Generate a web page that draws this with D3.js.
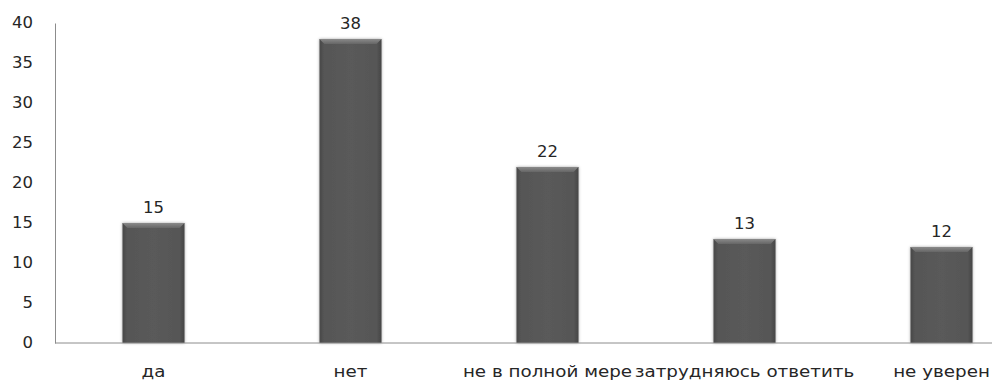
<!DOCTYPE html>
<html>
<head>
<meta charset="utf-8">
<script src="https://cdn.jsdelivr.net/npm/d3@7"></script>
<style>
  html, body { margin: 0; padding: 0; background: #fff; }
  svg { display: block; }
  text { font-family: "DejaVu Sans", Verdana, sans-serif; fill: #262626; }
</style>
</head>
<body>
<svg id="chart" width="992" height="381"></svg>
<script>
// Survey answers and their counts
const categories = ["да", "нет", "не в полной мере", "затрудняюсь ответить", "не уверен"];
const values = [15, 38, 22, 13, 12];
const yTicks = [0, 5, 10, 15, 20, 25, 30, 35, 40];

const W = 992, H = 381;
const margin = { left: 55, top: 23, bottom: 38 };
const plotRight = 1040; // plot area runs past the visible edge
const baseY = H - margin.bottom;
const numStretch = 1.1, catStretch = 1.22; // wide lettering

const svg = d3.select("#chart");
const defs = svg.append("defs");

// Bar body: dark grey with slightly darker sides
const body = defs.append("linearGradient").attr("id", "barBody")
  .attr("x1", "0").attr("x2", "1").attr("y1", "0").attr("y2", "0");
[[0, "#494949"], [0.08, "#565656"], [0.5, "#5a5a5a"], [0.92, "#565656"], [1, "#464646"]]
  .forEach(([o, c]) => body.append("stop").attr("offset", o).attr("stop-color", c));

const topBevel = defs.append("linearGradient").attr("id", "barTop")
  .attr("x1", "0").attr("x2", "0").attr("y1", "0").attr("y2", "1");
[[0, "#8a8a8a"], [1, "#666"]]
  .forEach(([o, c]) => topBevel.append("stop").attr("offset", o).attr("stop-color", c));

const shadow = defs.append("filter").attr("id", "shadow")
  .attr("x", "-20%").attr("y", "-10%").attr("width", "140%").attr("height", "120%");
shadow.append("feDropShadow").attr("dx", 0).attr("dy", 0)
  .attr("stdDeviation", 1.5).attr("flood-color", "#000").attr("flood-opacity", 0.35);

const x = d3.scaleBand().domain(categories).range([margin.left, plotRight]).paddingInner(0.685).paddingOuter(0.3425);
const y = d3.scaleLinear().domain([0, 40]).range([baseY, margin.top]);

// Y axis labels (no tick marks)
const yAxis = svg.append("g").attr("transform", `translate(${margin.left},0)`)
  .call(d3.axisLeft(y).tickValues(yTicks).tickSize(0).tickPadding(22));
yAxis.select(".domain").attr("stroke", "#8c8c8c");
yAxis.selectAll(".tick text")
  .attr("font-size", 15)
  .style("font-family", "DejaVu Sans, Verdana, sans-serif")
  .attr("fill", "#262626")
  .attr("transform", function () {
    const tx = +d3.select(this).attr("x");
    return `translate(${tx * (1 - numStretch)},0) scale(${numStretch},1)`;
  });

// Bars
const bars = svg.append("g").selectAll("g").data(categories).join("g");
bars.append("rect")
  .attr("x", d => x(d))
  .attr("y", (d, i) => y(values[i]))
  .attr("width", x.bandwidth())
  .attr("height", (d, i) => y(0) - y(values[i]))
  .attr("fill", "url(#barBody)")
  .attr("filter", "url(#shadow)");
// Top bevel as a trapezoid
bars.append("path")
  .attr("d", (d, i) => {
    const x0 = x(d), x1 = x0 + x.bandwidth(), t = y(values[i]), b = 5;
    return `M${x0},${t}L${x1},${t}L${x1 - b},${t + b}L${x0 + b},${t + b}Z`;
  })
  .attr("fill", "url(#barTop)");

// Value labels
bars.append("text")
  .attr("transform", (d, i) =>
    `translate(${x(d) + x.bandwidth() / 2},${y(values[i]) - 10}) scale(${numStretch},1)`)
  .attr("text-anchor", "middle")
  .attr("font-size", 15)
  .text((d, i) => values[i]);

// X axis baseline and category labels
svg.append("line")
  .attr("x1", margin.left).attr("x2", W)
  .attr("y1", baseY).attr("y2", baseY)
  .attr("stroke", "#8c8c8c");
svg.append("g").selectAll("text").data(categories).join("text")
  .attr("transform", d =>
    `translate(${x(d) + x.bandwidth() / 2},${baseY + 34}) scale(${catStretch},1)`)
  .attr("text-anchor", "middle")
  .attr("font-size", 15)
  .text(d => d);
</script>
</body>
</html>
